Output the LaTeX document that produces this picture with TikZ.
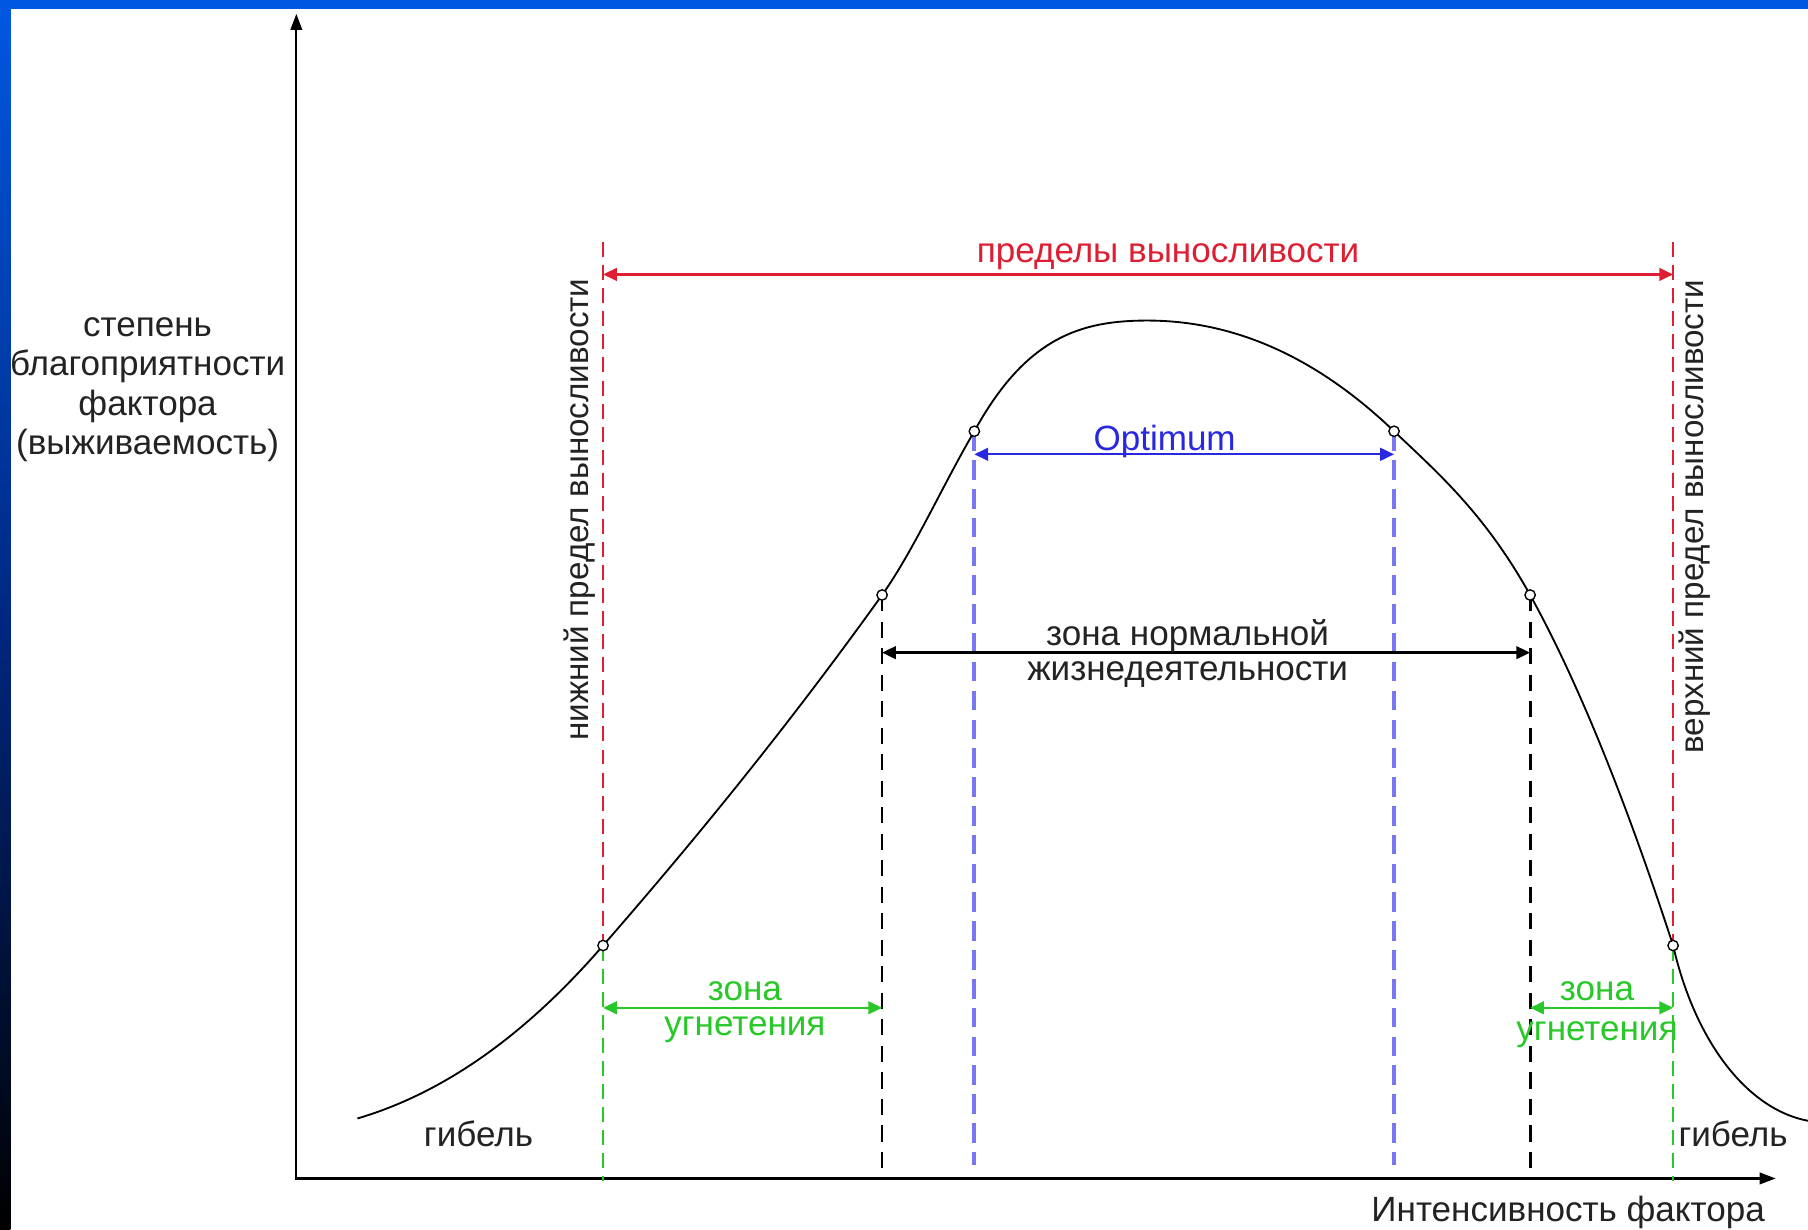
\documentclass[tikz,border=0pt]{standalone}
\usepackage{fontspec}
\setmainfont{Liberation Sans}
\usetikzlibrary{arrows.meta}
\definecolor{topblue}{RGB}{0,88,226}
\definecolor{redl}{RGB}{222,30,50}
\definecolor{bluel}{RGB}{40,40,225}
\definecolor{bluedash}{RGB}{120,120,240}
\definecolor{greenl}{RGB}{40,200,40}
\definecolor{txt}{RGB}{35,35,35}
\begin{document}
\begin{tikzpicture}[x=0.5pt,y=-0.5pt,
  font=\fontsize{15.2}{17}\selectfont,
  every node/.style={inner sep=0pt, text=txt},
  lbl/.style={anchor=base},
  axisline/.style={line width=1pt, draw=black, {Triangle[length=7pt,width=5pt]}-{Triangle[length=7pt,width=5pt]}},
  dimline/.style={line width=1pt, {Triangle[length=6pt,width=5.5pt]}-{Triangle[length=6pt,width=5.5pt]}},
  reddash/.style={line width=1.1pt, draw=redl, dash pattern=on 6.5pt off 3.5pt},
  greendash/.style={line width=1.1pt, draw=greenl, dash pattern=on 6.5pt off 3.5pt},
  blackdash/.style={line width=1.2pt, draw=black, dash pattern=on 7pt off 4.5pt},
  bluedashed/.style={line width=1.7pt, draw=bluedash, dash pattern=on 8.5pt off 4pt},
  pt/.style={circle, draw=black, fill=white, line width=0.6pt, minimum size=4.5pt, inner sep=0pt},
  curve/.style={line width=0.8pt, draw=black},
  vlabel/.style={rotate=90, font=\fontsize{14.4}{17}\selectfont}
]
\useasboundingbox (0,0) rectangle (1568,1066);
\fill[white] (0,0) rectangle (1568,1066);
\shade[top color=topblue, bottom color=black, middle color={rgb,255:red,0;green,40;blue,130}] (0,0) rectangle (9,1066);
\fill[topblue] (0,0) rectangle (1568,8);

% axes
\coordinate (Ytop) at (257,12);
\coordinate (O) at (257,1022);
\coordinate (Xend) at (1540,1022);
\draw[axisline] (Ytop) -- (O) -- (Xend);

% key coordinates
\coordinate (pS) at (310,970);
\coordinate (pA) at (523,820);
\coordinate (pB) at (765,516);
\coordinate (pC) at (845,374);
\coordinate (pP) at (995,278);
\coordinate (pD) at (1209,374);
\coordinate (pE) at (1327,516);
\coordinate (pF) at (1451,820);
\coordinate (pZ) at (1568,972);
\coordinate (rlTop) at (523,210);
\coordinate (rrTop) at (1451,210);
\coordinate (aA) at (523,1024);
\coordinate (aF) at (1451,1024);
\coordinate (aB) at (765,1022);
\coordinate (aE) at (1327,1022);
\coordinate (bC) at (845,1010);
\coordinate (bD) at (1209,1010);

% vertical dashed lines
\draw[reddash] (rlTop) -- (pA);
\draw[reddash] (rrTop) -- (pF);
\draw[greendash] (pA) -- (aA);
\draw[greendash] (pF) -- (aF);
\draw[blackdash] (pB) -- (aB);
\draw[blackdash] (pE) -- (aE);
\draw[bluedashed] (pC) -- (bC);
\draw[bluedashed] (pD) -- (bD);

% curve
\draw[curve] (pS) .. controls (381,949) and (452,902) .. (pA)
  .. controls (604,727) and (684,629) .. (pB)
  .. controls (792,478) and (818,420) .. (pC)
  .. controls (890,292) and (938,278) .. (pP)
  .. controls (1066,278) and (1138,306) .. (pD)
  .. controls (1248,411) and (1288,446) .. (pE)
  .. controls (1368,590) and (1410,694) .. (pF)
  .. controls (1470,903) and (1515,962) .. (pZ);

% points
\foreach \p in {pA,pB,pC,pD,pE,pF} \node[pt] (n\p) at (\p) {};

% dimension arrows
\coordinate (r1) at (523,238); \coordinate (r2) at (1451,238);
\draw[dimline, draw=redl, fill=redl] (r1) -- (r2);
\coordinate (o1) at (845,394); \coordinate (o2) at (1209,394);
\draw[dimline, draw=bluel, fill=bluel] (o1) -- (o2);
\coordinate (z1) at (765,566); \coordinate (z2) at (1327,566);
\draw[dimline, draw=black, fill=black] (z1) -- (z2);
\coordinate (g1) at (523,874); \coordinate (g2) at (765,874);
\draw[dimline, draw=greenl, fill=greenl] (g1) -- (g2);
\coordinate (g3) at (1327,874); \coordinate (g4) at (1451,874);
\draw[dimline, draw=greenl, fill=greenl] (g3) -- (g4);

% labels
\node[lbl, text=redl] (lim) at (1013,228) {пределы выносливости};
\node[lbl, text=bluel] (opt) at (1010,391) {Optimum};
\node[lbl] (norm1) at (1030,560) {зона нормальной};
\node[lbl] (norm2) at (1030,590) {жизнедеятельности};
\node[lbl, text=greenl] (gz1) at (646,868) {зона};
\node[lbl, text=greenl] (gu1) at (646,898) {угнетения};
\node[lbl, text=greenl] (gz2) at (1385,868) {зона};
\node[lbl, text=greenl] (gu2) at (1385,902) {угнетения};
\node[lbl] (death1) at (415,994) {гибель};
\node[lbl] (death2) at (1503,994) {гибель};
\node[lbl] (xlab) at (1360,1059) {Интенсивность фактора};
\node[lbl] (yl1) at (128,292) {степень};
\node[lbl] (yl2) at (128,326) {благоприятности};
\node[lbl] (yl3) at (128,360) {фактора};
\node[lbl] (yl4) at (128,394) {(выживаемость)};
\node[vlabel] (lowlim) at (503,442) {нижний предел выносливости};
\node[vlabel] (uplim) at (1470,448) {верхний предел выносливости};
\end{tikzpicture}
\end{document}
